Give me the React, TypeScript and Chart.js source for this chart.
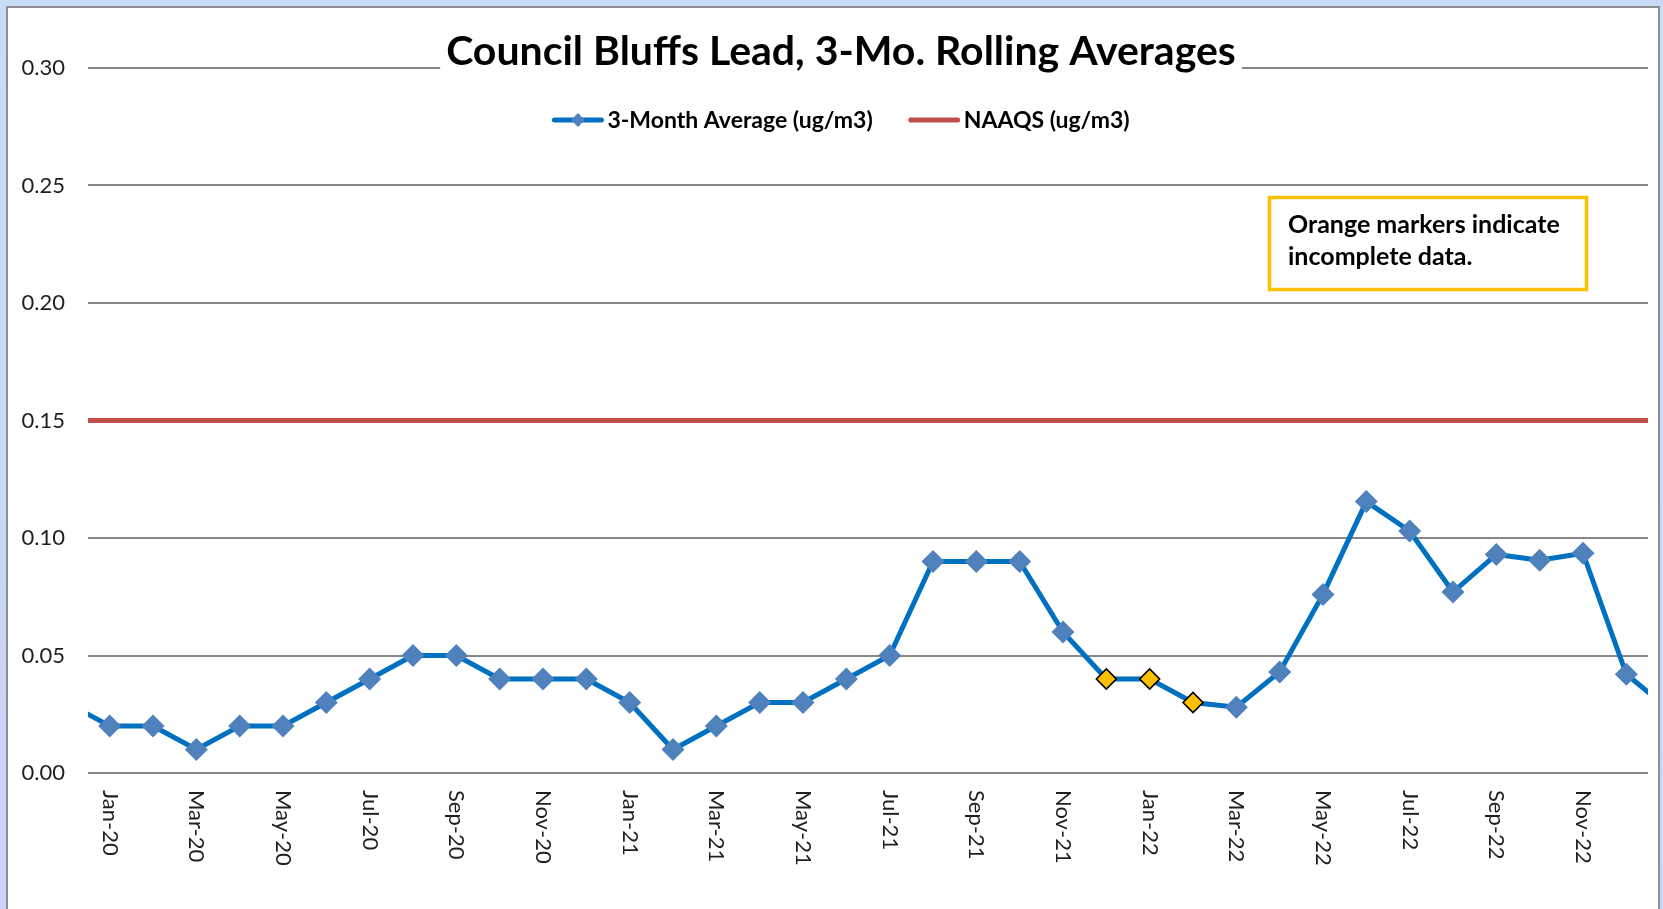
import React, { useEffect, useRef } from "react";
import { Chart, registerables } from "chart.js";

Chart.register(...registerables);

// Months (Dec-19 and Jan-23 lie just outside the visible range and are clipped)
const months = [
  "Dec-19",
  "Jan-20", "Feb-20", "Mar-20", "Apr-20", "May-20", "Jun-20",
  "Jul-20", "Aug-20", "Sep-20", "Oct-20", "Nov-20", "Dec-20",
  "Jan-21", "Feb-21", "Mar-21", "Apr-21", "May-21", "Jun-21",
  "Jul-21", "Aug-21", "Sep-21", "Oct-21", "Nov-21", "Dec-21",
  "Jan-22", "Feb-22", "Mar-22", "Apr-22", "May-22", "Jun-22",
  "Jul-22", "Aug-22", "Sep-22", "Oct-22", "Nov-22", "Dec-22",
  "Jan-23",
];

const avgValues = [
  0.030,
  0.02, 0.02, 0.01, 0.02, 0.02, 0.03,
  0.04, 0.05, 0.05, 0.04, 0.04, 0.04,
  0.03, 0.01, 0.02, 0.03, 0.03, 0.04,
  0.05, 0.09, 0.09, 0.09, 0.06, 0.04,
  0.04, 0.03, 0.028, 0.043, 0.076, 0.1155,
  0.103, 0.077, 0.093, 0.0905, 0.0935, 0.042,
  0.027,
];

const naaqsValues = [
  0.15,
  0.15, 0.15, 0.15, 0.15, 0.15, 0.15,
  0.15, 0.15, 0.15, 0.15, 0.15, 0.15,
  0.15, 0.15, 0.15, 0.15, 0.15, 0.15,
  0.15, 0.15, 0.15, 0.15, 0.15, 0.15,
  0.15, 0.15, 0.15, 0.15, 0.15, 0.15,
  0.15, 0.15, 0.15, 0.15, 0.15, 0.15,
  0.15,
];

const incompleteMonths = ["Dec-21", "Jan-22", "Feb-22"];

const shownTickLabels = [
  "Jan-20", "Mar-20", "May-20", "Jul-20", "Sep-20", "Nov-20",
  "Jan-21", "Mar-21", "May-21", "Jul-21", "Sep-21", "Nov-21",
  "Jan-22", "Mar-22", "May-22", "Jul-22", "Sep-22", "Nov-22",
];

const yTicks = [0, 0.05, 0.1, 0.15, 0.2, 0.25, 0.3];

const titleText = "Council Bluffs Lead, 3-Mo. Rolling Averages";
const legendLabels = ["3-Month Average (ug/m3)", "NAAQS (ug/m3)"];
const noteLines = ["Orange markers indicate", "incomplete data."];

const BLUE_LINE = "#0070C0";
const BLUE_MARK = "#4F81BD";
const ORANGE = "#FFC000";
const RED = "#C0504D";
const GRID = "#878787";
const TEXT = "#1f1f1f";
const FONT = "Lato, 'Open Sans', sans-serif";

const overlayPlugin = {
  id: "overlay",
  afterDraw(chart: any) {
    const ctx = chart.ctx as CanvasRenderingContext2D;
    const xs = chart.scales.x;
    const area = chart.chartArea;
    ctx.save();

    // X tick labels, rotated to read top-to-bottom
    ctx.font = `22px ${FONT}`;
    ctx.fillStyle = TEXT;
    ctx.textAlign = "left";
    ctx.textBaseline = "middle";
    months.forEach((m, i) => {
      if (!shownTickLabels.includes(m)) return;
      const x = xs.getPixelForValue(i);
      ctx.save();
      ctx.translate(x, area.bottom + 17);
      ctx.rotate(Math.PI / 2);
      ctx.fillText(m, 0, 0);
      ctx.restore();
    });

    // Title with white background
    const cx = 841;
    ctx.font = `bold 41px ${FONT}`;
    const tw = ctx.measureText(titleText).width;
    ctx.fillStyle = "#ffffff";
    ctx.fillRect(cx - tw / 2 - 6, 28, tw + 12, 48);
    ctx.fillStyle = "#000000";
    ctx.textAlign = "center";
    ctx.textBaseline = "alphabetic";
    ctx.fillText(titleText, cx, 65);

    // Legend
    const ly = 120;
    const lineW = 51;
    const gap = 4;
    const itemGap = 36;
    ctx.font = `bold 23px ${FONT}`;
    const w1 = ctx.measureText(legendLabels[0]).width;
    const w2 = ctx.measureText(legendLabels[1]).width;
    const total = lineW + gap + w1 + itemGap + lineW + gap + w2;
    let lx = cx - total / 2;
    ctx.lineCap = "round";
    ctx.strokeStyle = BLUE_LINE;
    ctx.lineWidth = 5;
    ctx.beginPath();
    ctx.moveTo(lx + 2, ly);
    ctx.lineTo(lx + lineW - 2, ly);
    ctx.stroke();
    const dx = lx + lineW / 2;
    const r = 7;
    ctx.fillStyle = BLUE_MARK;
    ctx.beginPath();
    ctx.moveTo(dx - r, ly);
    ctx.lineTo(dx, ly - r);
    ctx.lineTo(dx + r, ly);
    ctx.lineTo(dx, ly + r);
    ctx.closePath();
    ctx.fill();
    ctx.fillStyle = "#000000";
    ctx.textAlign = "left";
    ctx.textBaseline = "middle";
    ctx.fillText(legendLabels[0], lx + lineW + gap, ly + 1);
    lx = lx + lineW + gap + w1 + itemGap;
    ctx.strokeStyle = RED;
    ctx.lineWidth = 5;
    ctx.beginPath();
    ctx.moveTo(lx + 2, ly);
    ctx.lineTo(lx + lineW - 2, ly);
    ctx.stroke();
    ctx.fillStyle = "#000000";
    ctx.fillText(legendLabels[1], lx + lineW + gap, ly + 1);

    // Note box
    ctx.fillStyle = "#ffffff";
    ctx.fillRect(1268, 196, 320, 95);
    ctx.strokeStyle = ORANGE;
    ctx.lineWidth = 3.5;
    ctx.lineCap = "butt";
    ctx.strokeRect(1269.5, 197.5, 317, 92);
    ctx.fillStyle = "#000000";
    ctx.font = `bold 25px ${FONT}`;
    ctx.textBaseline = "alphabetic";
    ctx.fillText(noteLines[0], 1288, 233);
    ctx.fillText(noteLines[1], 1288, 265);

    ctx.restore();
  },
};

export default function App() {
  const canvasRef = useRef<HTMLCanvasElement | null>(null);

  useEffect(() => {
    const canvas = canvasRef.current;
    if (!canvas) return;
    const isInc = (c: any) => incompleteMonths.includes(months[c.dataIndex]);
    const chart = new Chart(canvas, {
      type: "line",
      data: {
        datasets: [
          {
            label: legendLabels[0],
            data: avgValues.map((v, i) => ({ x: i, y: v })),
            borderColor: BLUE_LINE,
            borderWidth: 5,
            backgroundColor: BLUE_MARK,
            pointStyle: "rectRot",
            pointRadius: (c: any) => (isInc(c) ? 10 : 11.5),
            pointBackgroundColor: (c: any) => (isInc(c) ? ORANGE : BLUE_MARK),
            pointBorderColor: (c: any) => (isInc(c) ? "#000000" : BLUE_MARK),
            pointBorderWidth: (c: any) => (isInc(c) ? 1.6 : 0),
            tension: 0,
            clip: { left: 0, right: 0, top: 20, bottom: 20 } as any,
            order: 0,
          },
          {
            label: legendLabels[1],
            data: naaqsValues.map((v, i) => ({ x: i, y: v })),
            borderColor: RED,
            borderWidth: 5,
            pointRadius: 0,
            tension: 0,
            clip: { left: 0, right: 0, top: 20, bottom: 20 } as any,
            order: 1,
          },
        ],
      },
      options: {
        animation: false,
        responsive: false,
        maintainAspectRatio: false,
        events: [],
        layout: { padding: { left: 0, top: 68, right: 15, bottom: 0 } },
        plugins: {
          legend: { display: false },
          title: { display: false },
          tooltip: { enabled: false },
        },
        scales: {
          x: {
            type: "linear",
            min: 0.5,
            max: months.length - 1.5,
            grid: { display: false },
            border: { display: false },
            ticks: { display: false },
            afterFit: (s: any) => {
              s.height = 136;
            },
          },
          y: {
            min: yTicks[0],
            max: yTicks[yTicks.length - 1],
            afterBuildTicks: (s: any) => {
              s.ticks = yTicks.map((v) => ({ value: v }));
            },
            grid: { color: GRID, lineWidth: 2, drawTicks: false },
            border: { display: false },
            ticks: {
              padding: 23,
              color: TEXT,
              font: { family: FONT, size: 22 },
              callback: (v: any) => Number(v).toFixed(2),
            },
            afterFit: (s: any) => {
              s.width = 88;
            },
          },
        },
      },
      plugins: [overlayPlugin],
    });
    return () => chart.destroy();
  }, []);

  return (
    <div
      style={{
        position: "fixed",
        left: 0,
        top: 0,
        width: 1663,
        height: 909,
        overflow: "hidden",
        background: "linear-gradient(180deg, #c8dcf8 0%, #ccd4fa 100%)",
      }}
    >
      <div
        style={{
          position: "absolute",
          left: 6,
          top: 6,
          width: 1650,
          height: 960,
          background: "#ffffff",
          border: "2px solid #8e8e8e",
        }}
      />
      <canvas
        ref={canvasRef}
        width={1663}
        height={909}
        style={{ position: "absolute", left: 0, top: 0, width: 1663, height: 909 }}
      />
    </div>
  );
}
